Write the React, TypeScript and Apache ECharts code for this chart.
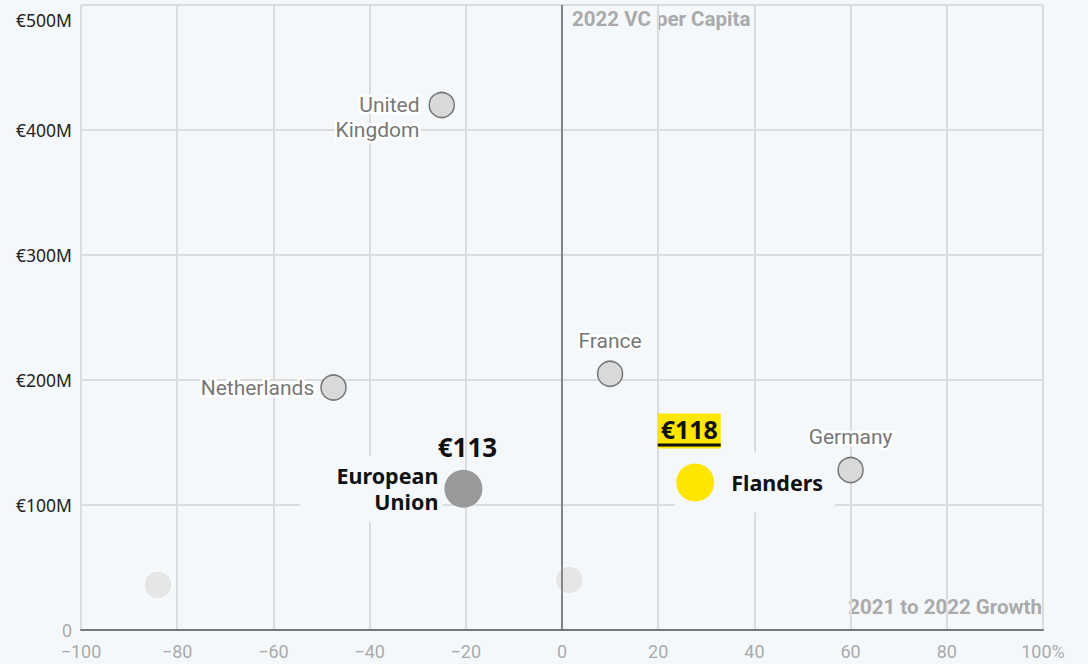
import React, { useEffect, useRef } from 'react';
import * as echarts from 'echarts';

// Data (growth in %, VC per capita in €M)
const countryNames = ['United\nKingdom', 'Netherlands', 'France', 'Germany'];
const countryGrowth = [-25, -47.5, 10, 60];
const countryVc = [420, 194, 205, 128];

const fadedGrowth = [-84, 1.5];
const fadedVc = [36, 40];

const highlightNames = ['European\nUnion', 'Flanders'];
const highlightGrowth = [-20.5, 27.7];
const highlightVc = [113, 118];
const highlightValueLabels = ['€113', '€118'];

const xTickMin = -100;
const xTickMax = 100;
const xTickStep = 20;
const yTickMax = 500;
const yTickStep = 100;

const BG = '#f5f8fb';

export default function App() {
  const ref = useRef<HTMLDivElement>(null);

  useEffect(() => {
    if (!ref.current) return;
    const chart = echarts.init(ref.current, undefined, { renderer: 'svg' });

    const countryLabelStyle = {
      show: true,
      color: '#777',
      fontFamily: 'Roboto',
      fontSize: 21,
      textBorderColor: '#ffffff',
      textBorderWidth: 5,
      lineHeight: 25,
    };
    const countryLabelPlacement: any[] = [
      { position: 'left', align: 'right', distance: 9, offset: [0, 12] },
      { position: 'left', align: 'right', distance: 6 },
      { position: 'top', distance: 7 },
      { position: 'top', distance: 7 },
    ];

    const countryData = countryNames.map((name, i) => ({
      name,
      value: [countryGrowth[i], countryVc[i]],
      label: { ...countryLabelStyle, ...countryLabelPlacement[i], formatter: name },
    }));

    const fadedData = fadedGrowth.map((g, i) => ({ value: [g, fadedVc[i]] }));

    const highlightColors = ['#999999', '#ffe600'];
    const highlightData = highlightNames.map((name, i) => ({
      name,
      value: [highlightGrowth[i], highlightVc[i]],
      itemStyle: { color: highlightColors[i], opacity: 1 },
    }));

    const nameLabelPlacement: any[] = [
      { position: 'left', distance: 2, align: 'right', padding: [0, 4, 14, 37] },
      { position: 'right', distance: 0, offset: [-39, 0], align: 'left', padding: [14, 12, 20, 56] },
    ];
    const nameLabelData = highlightNames.map((name, i) => ({
      name,
      value: [highlightGrowth[i], highlightVc[i]],
      label: {
        show: true,
        formatter: name,
        color: '#111',
        fontFamily: 'Noto Sans',
        fontWeight: 'bold',
        fontSize: 21.5,
        lineHeight: 26,
        backgroundColor: BG,
        ...nameLabelPlacement[i],
      },
    }));

    const valueLabelData = highlightValueLabels.map((txt, i) => ({
      value: [highlightGrowth[i], highlightVc[i]],
      label:
        i === 0
          ? {
              show: true,
              position: 'top',
              distance: 10,
              offset: [4, 0],
              formatter: txt,
              color: '#111',
              fontFamily: 'Noto Sans',
              fontWeight: 'bold',
              fontSize: 26,
            }
          : {
              show: true,
              position: 'top',
              distance: 15,
              offset: [-6, 0],
              formatter: '{v|' + txt + '}\n{u|}',
              backgroundColor: '#ffe600',
              padding: [1, 0, 2, 0],
              rich: {
                v: {
                  color: '#111',
                  fontFamily: 'Noto Sans',
                  fontWeight: 'bold',
                  fontSize: 25,
                  lineHeight: 29,
                },
                u: { width: 63, height: 3, lineHeight: 3, backgroundColor: '#111' },
              },
            },
    }));

    const option: any = {
      animation: false,
      backgroundColor: BG,
      grid: { left: 81, right: 45, top: 5, bottom: 34, containLabel: false },
      xAxis: {
        type: 'value',
        min: xTickMin,
        max: xTickMax,
        interval: xTickStep,
        axisLine: { show: true, onZero: false, lineStyle: { color: '#777', width: 2 } },
        axisTick: { show: false },
        splitLine: { show: true, lineStyle: { color: '#dcdcdc', width: 2 } },
        axisLabel: {
          margin: 12,
          color: '#aaa',
          fontFamily: 'Roboto',
          fontSize: 18,
          formatter: (v: number) =>
            v === xTickMax ? v + '%' : v < 0 ? '\u2212' + Math.abs(v) : String(v),
        },
      },
      yAxis: {
        type: 'value',
        min: 0,
        max: yTickMax,
        interval: yTickStep,
        axisLine: { show: false },
        axisTick: { show: false },
        splitLine: { show: true, lineStyle: { color: '#dcdcdc', width: 2 } },
        axisLabel: {
          margin: 9,
          fontFamily: 'Noto Sans',
          fontSize: 17.5,
          padding: [6, 0, 0, 0],
          verticalAlignMaxLabel: 'top',
          color: (v: any) => (String(v) === '0' ? '#aaa' : '#222'),
          formatter: (v: number) => (v === 0 ? '0' : '€' + v + 'M'),
        },
      },
      graphic: [
        {
          type: 'text',
          left: 572,
          top: 8,
          style: { text: '2022 VC per Capita', font: 'bold 20.5px Roboto', fill: '#aaa' },
        },
        {
          type: 'text',
          right: 46,
          top: 596,
          style: { text: '2021 to 2022 Growth', font: 'bold 20.5px Roboto', fill: '#aaa' },
        },
      ],
      series: [
        {
          type: 'scatter',
          z: 2,
          symbolSize: 28,
          itemStyle: { color: '#e6e6e6', borderColor: '#ffffff', borderWidth: 1, opacity: 1 },
          data: fadedData,
          markLine: {
            silent: true,
            symbol: ['none', 'none'],
            label: { show: false },
            lineStyle: { color: '#666', width: 1.5, type: 'solid' },
            data: [{ xAxis: 0 }],
          },
        },
        {
          type: 'scatter',
          z: 3,
          symbolSize: 38,
          itemStyle: { color: 'rgba(0,0,0,0)', opacity: 1 },
          data: nameLabelData,
        },
        {
          type: 'scatter',
          z: 4,
          symbolSize: 25,
          itemStyle: { color: '#d9d9d9', borderColor: '#777777', borderWidth: 1.5, opacity: 1 },
          data: countryData,
        },
        {
          type: 'scatter',
          z: 5,
          symbolSize: 38,
          data: highlightData,
        },
        {
          type: 'scatter',
          z: 6,
          symbolSize: 38,
          itemStyle: { color: 'rgba(0,0,0,0)', opacity: 1 },
          data: valueLabelData,
        },
      ],
    };

    chart.setOption(option);
    return () => chart.dispose();
  }, []);

  return (
    <div
      ref={ref}
      style={{ position: 'absolute', left: 0, top: 0, width: 1088, height: 664 }}
    />
  );
}
